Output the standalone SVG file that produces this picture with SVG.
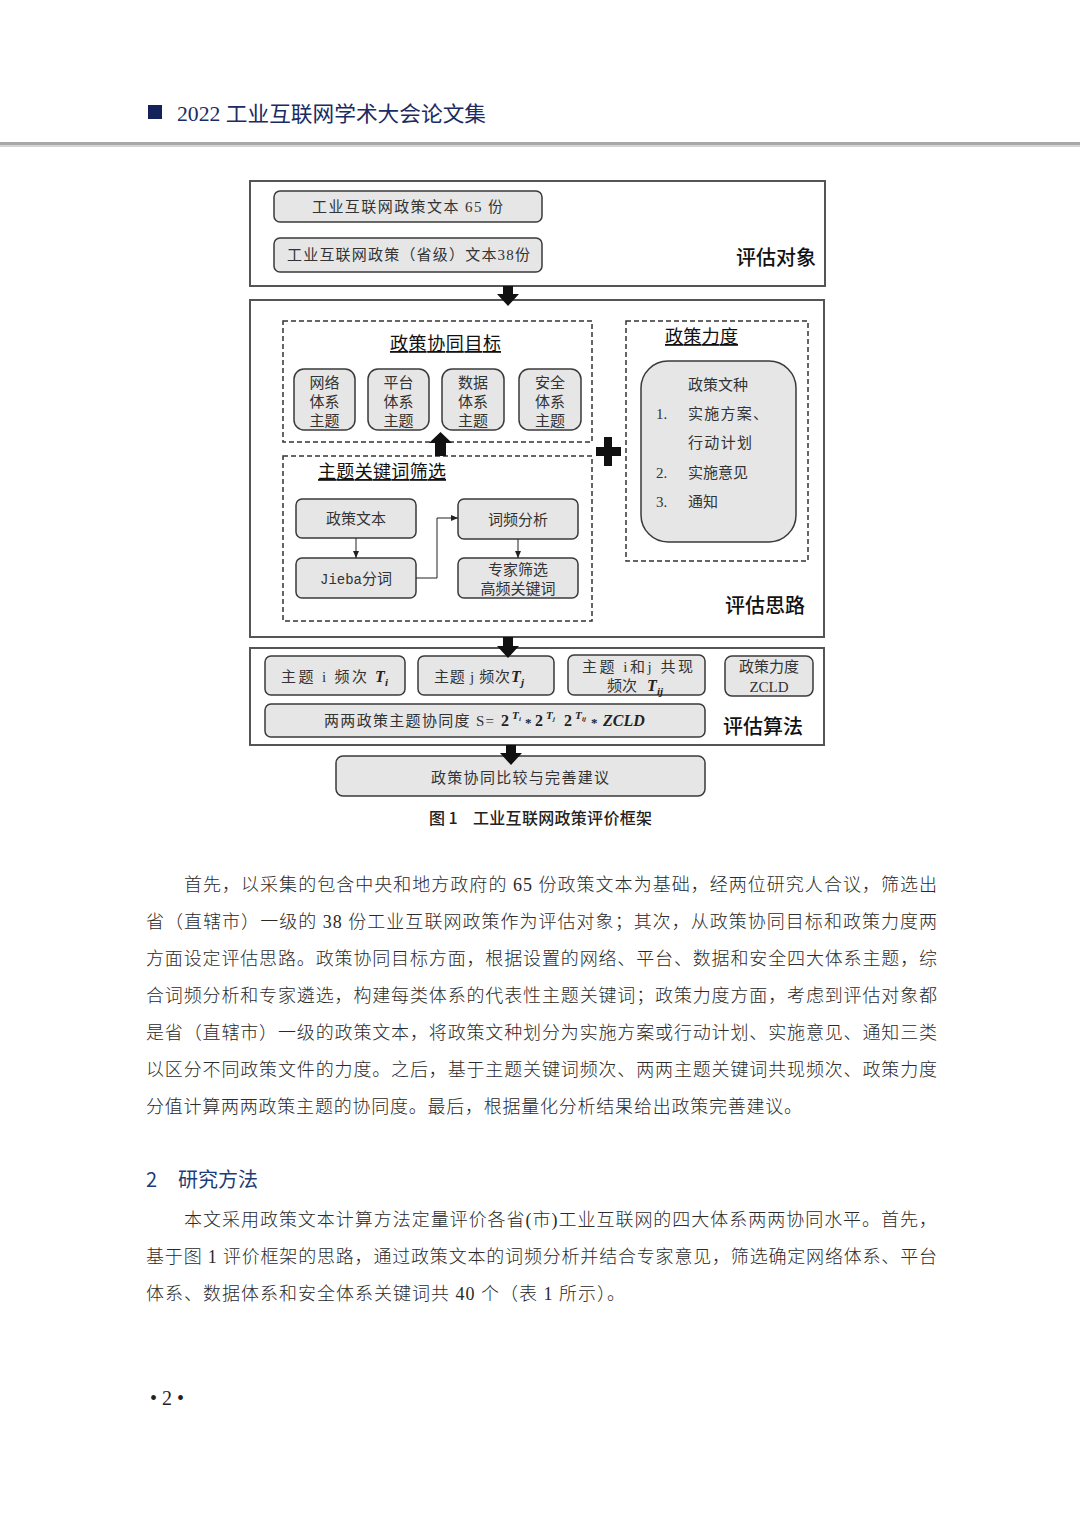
<svg xmlns="http://www.w3.org/2000/svg" width="1080" height="1527" viewBox="0 0 1080 1527">
<defs>
<style>
.frame{fill:#fff;stroke:#555;stroke-width:2}
.node{fill:#e6e6e6;stroke:#3a3a3a;stroke-width:1.5}
.dash{fill:none;stroke:#333;stroke-width:1.5;stroke-dasharray:5 3}
.t{font-family:"Liberation Serif","Noto Sans CJK SC",serif;font-size:15px;fill:#333}
.c{text-anchor:middle}
.lbl{font-family:"Noto Sans CJK SC",sans-serif;font-size:20px;fill:#111;font-weight:500}
.ttl{font-family:"Noto Sans CJK SC",sans-serif;font-size:18px;fill:#111;text-decoration:underline}
.body{font-family:"Liberation Serif","Noto Sans CJK SC",serif;font-size:18px;fill:#2a2a2a;font-weight:300}
.mono{font-family:"Liberation Mono",monospace}
.bi{font-family:"Liberation Serif",serif;font-weight:bold;font-style:italic;fill:#222}
.b{font-family:"Liberation Serif",serif;font-weight:bold;fill:#222}
.blk{fill:#111}
.thin{fill:none;stroke:#222;stroke-width:1}
.cap{font-family:"Noto Sans CJK SC",sans-serif;font-size:16px;font-weight:500;fill:#222}
</style>
<marker id="ah" markerWidth="8" markerHeight="8" refX="7" refY="4" orient="auto" markerUnits="userSpaceOnUse">
<path d="M0,1 L7,4 L0,7 Z" fill="#222"/>
</marker>
</defs>
<rect width="1080" height="1527" fill="#fff"/>

<!-- page header -->
<g id="header">
<rect x="148" y="105" width="14" height="14" fill="#14225a"/>
<text x="177" y="121" font-family="Liberation Serif,'Noto Sans CJK SC',serif" font-size="21" fill="#1b2b63" textLength="309" lengthAdjust="spacingAndGlyphs">2022 工业互联网学术大会论文集</text>
<rect x="0" y="142" width="1080" height="3" fill="#a8a8a8"/>
<rect x="0" y="145" width="1080" height="2" fill="#d4d4d4"/>
</g>

<!-- frames -->
<g id="frame-target">
<rect class="frame" x="250" y="181" width="575" height="105"/>
<text class="lbl" x="736" y="265">评估对象</text>
</g>
<g id="frame-idea">
<rect class="frame" x="250" y="300" width="574" height="337"/>
<text class="lbl" x="725" y="613">评估思路</text>
</g>
<g id="frame-algo">
<rect class="frame" x="250" y="648" width="574" height="97"/>
<text class="lbl" x="723" y="734">评估算法</text>
</g>

<!-- top nodes -->
<g id="n-text65">
<rect class="node" x="274" y="191" width="268" height="31" rx="6"/>
<text class="t" x="312" y="212" textLength="191" lengthAdjust="spacing">工业互联网政策文本 65 份</text>
</g>
<g id="n-text38">
<rect class="node" x="274" y="238" width="268" height="34" rx="6"/>
<text class="t" x="287" y="260" textLength="243" lengthAdjust="spacing">工业互联网政策（省级）文本38份</text>
</g>

<!-- dashed groups -->
<g id="g-goal">
<rect class="dash" x="283" y="321" width="309" height="121"/>
<text class="ttl" x="390" y="350" textLength="111" lengthAdjust="spacing">政策协同目标</text>
</g>
<g id="g-keyword">
<rect class="dash" x="283" y="456" width="309" height="165"/>
<text class="ttl" x="318" y="478" textLength="128" lengthAdjust="spacing">主题关键词筛选</text>
</g>
<g id="g-strength">
<rect class="dash" x="626" y="321" width="182" height="240"/>
<text class="ttl" x="665" y="343" textLength="73" lengthAdjust="spacing">政策力度</text>
</g>

<!-- theme nodes -->
<g id="n-net">
<rect class="node" x="294" y="369" width="61" height="61" rx="10"/>
<text class="t c" x="324.5" y="388" font-size="16">网络</text>
<text class="t c" x="324.5" y="407" font-size="16">体系</text>
<text class="t c" x="324.5" y="426" font-size="16">主题</text>
</g>
<g id="n-plat">
<rect class="node" x="368" y="369" width="61" height="61" rx="10"/>
<text class="t c" x="398.5" y="388" font-size="16">平台</text>
<text class="t c" x="398.5" y="407" font-size="16">体系</text>
<text class="t c" x="398.5" y="426" font-size="16">主题</text>
</g>
<g id="n-data">
<rect class="node" x="442" y="369" width="62" height="61" rx="10"/>
<text class="t c" x="473" y="388" font-size="16">数据</text>
<text class="t c" x="473" y="407" font-size="16">体系</text>
<text class="t c" x="473" y="426" font-size="16">主题</text>
</g>
<g id="n-sec">
<rect class="node" x="519" y="369" width="62" height="61" rx="10"/>
<text class="t c" x="550" y="388" font-size="16">安全</text>
<text class="t c" x="550" y="407" font-size="16">体系</text>
<text class="t c" x="550" y="426" font-size="16">主题</text>
</g>

<!-- keyword nodes -->
<g id="n-policytext">
<rect class="node" x="296" y="499" width="120" height="39" rx="6"/>
<text class="t c" x="356" y="524">政策文本</text>
</g>
<g id="n-jieba">
<rect class="node" x="296" y="558" width="120" height="40" rx="6"/>
<text class="t c" x="356" y="584"><tspan class="mono" font-size="14">Jieba</tspan>分词</text>
</g>
<g id="n-freq">
<rect class="node" x="458" y="499" width="120" height="40" rx="6"/>
<text class="t c" x="518" y="525">词频分析</text>
</g>
<g id="n-expert">
<rect class="node" x="458" y="558" width="120" height="40" rx="6"/>
<text class="t c" x="518" y="575">专家筛选</text>
<text class="t c" x="518" y="594">高频关键词</text>
</g>

<!-- strength node -->
<g id="n-doctype">
<rect class="node" x="641" y="361" width="155" height="181" rx="27"/>
<text class="t c" x="718" y="390">政策文种</text>
<text class="t" x="656" y="419">1.</text>
<text class="t" x="688" y="419" textLength="80" lengthAdjust="spacing">实 施 方 案 、</text>
<text class="t" x="688" y="448" textLength="64" lengthAdjust="spacing">行动计划</text>
<text class="t" x="656" y="478">2.</text>
<text class="t" x="688" y="478">实施意见</text>
<text class="t" x="656" y="507">3.</text>
<text class="t" x="688" y="507">通知</text>
</g>

<!-- algorithm nodes -->
<g id="n-ti">
<rect class="node" x="265" y="656" width="140" height="39" rx="6"/>
<text class="t" x="281" y="682" textLength="86" lengthAdjust="spacing">主题 i 频次</text>
<text class="bi" x="375" y="682" font-size="16">T</text>
<text class="bi" x="385" y="686" font-size="11">i</text>
</g>
<g id="n-tj">
<rect class="node" x="418" y="656" width="136" height="39" rx="6"/>
<text class="t" x="434" y="682" textLength="76" lengthAdjust="spacing">主题 j 频次</text>
<text class="bi" x="511" y="682" font-size="16">T</text>
<text class="bi" x="521" y="686" font-size="11">j</text>
</g>
<g id="n-tij">
<rect class="node" x="568" y="655" width="137" height="40" rx="6"/>
<text class="t" x="582" y="672" textLength="111" lengthAdjust="spacing">主题 i和j 共现</text>
<text class="t" x="607" y="691">频次</text>
<text class="bi" x="647" y="691" font-size="16">T</text>
<text class="bi" x="657" y="695" font-size="11">ij</text>
</g>
<g id="n-zcld">
<rect class="node" x="725" y="656" width="88" height="40" rx="7"/>
<text class="t c" x="769" y="672">政策力度</text>
<text class="t c" x="769" y="692" font-size="14">ZCLD</text>
</g>
<g id="n-formula">
<rect class="node" x="265" y="704" width="440" height="33" rx="6"/>
<text class="t" x="324" y="726" textLength="170" lengthAdjust="spacing">两两政策主题协同度 S=</text>
<text class="b" x="501" y="726" font-size="16">2</text>
<text class="bi" x="512" y="719" font-size="11">T</text>
<text class="bi" x="519" y="721" font-size="7">i</text>
<text class="b" x="525" y="727" font-size="13">*</text>
<text class="b" x="535" y="726" font-size="16">2</text>
<text class="bi" x="546" y="719" font-size="11">T</text>
<text class="bi" x="553" y="721" font-size="7">j</text>
<text class="b" x="564" y="726" font-size="16">2</text>
<text class="bi" x="575" y="719" font-size="11">T</text>
<text class="bi" x="582" y="721" font-size="7">ij</text>
<text class="b" x="591" y="727" font-size="13">*</text>
<text class="bi" x="603" y="726" font-size="16">ZCLD</text>
</g>

<!-- final node -->
<g id="n-final">
<rect class="node" x="336" y="756" width="369" height="40" rx="7"/>
<text class="t" x="431" y="783" font-size="16" textLength="178" lengthAdjust="spacing">政策协同比较与完善建议</text>
</g>

<!-- connectors -->
<g id="connectors">
<path class="blk" d="M503,286 H513 V294 H519 L508,306 L497,294 H503 Z"/>
<path class="blk" d="M503,637 H513 V646 H519 L508,658 L497,646 H503 Z"/>
<path class="blk" d="M506,745 H516 V753 H522 L511,765 L500,753 H506 Z"/>
<path class="blk" d="M435,456 H446 V443 H452 L440.5,432 L429,443 H435 Z"/>
<path class="blk" d="M604,437 H612 V447 H621 V456 H612 V466 H604 V456 H596 V447 H604 Z"/>
<line class="thin" x1="356" y1="538" x2="356" y2="558" marker-end="url(#ah)"/>
<polyline class="thin" points="416,578 437,578 437,518 458,518" marker-end="url(#ah)"/>
<line class="thin" x1="518" y1="539" x2="518" y2="558" marker-end="url(#ah)"/>
</g>

<!-- caption -->
<text class="cap" x="429" y="824">图 1</text>
<text class="cap" x="473" y="824" textLength="179" lengthAdjust="spacing">工业互联网政策评价框架</text>

<!-- body text -->
<g id="body">
<text class="body" x="184" y="891" textLength="753" lengthAdjust="spacing">首先，以采集的包含中央和地方政府的 65 份政策文本为基础，经两位研究人合议，筛选出</text>
<text class="body" x="146" y="928" textLength="791" lengthAdjust="spacing">省（直辖市）一级的 38 份工业互联网政策作为评估对象；其次，从政策协同目标和政策力度两</text>
<text class="body" x="146" y="965" textLength="791" lengthAdjust="spacing">方面设定评估思路。政策协同目标方面，根据设置的网络、平台、数据和安全四大体系主题，综</text>
<text class="body" x="146" y="1002" textLength="791" lengthAdjust="spacing">合词频分析和专家遴选，构建每类体系的代表性主题关键词；政策力度方面，考虑到评估对象都</text>
<text class="body" x="146" y="1039" textLength="791" lengthAdjust="spacing">是省（直辖市）一级的政策文本，将政策文种划分为实施方案或行动计划、实施意见、通知三类</text>
<text class="body" x="146" y="1076" textLength="791" lengthAdjust="spacing">以区分不同政策文件的力度。之后，基于主题关键词频次、两两主题关键词共现频次、政策力度</text>
<text class="body" x="146" y="1113" textLength="656" lengthAdjust="spacing">分值计算两两政策主题的协同度。最后，根据量化分析结果给出政策完善建议。</text>
<text x="146" y="1187" font-family="'Noto Sans CJK SC',sans-serif" font-size="20" fill="#1e3c78">2</text>
<text x="178" y="1187" font-family="'Noto Sans CJK SC',sans-serif" font-size="20" fill="#1e3c78">研究方法</text>
<text class="body" x="184" y="1226" textLength="753" lengthAdjust="spacing">本文采用政策文本计算方法定量评价各省(市)工业互联网的四大体系两两协同水平。首先，</text>
<text class="body" x="146" y="1263" textLength="791" lengthAdjust="spacing">基于图 1 评价框架的思路，通过政策文本的词频分析并结合专家意见，筛选确定网络体系、平台</text>
<text class="body" x="146" y="1300" textLength="479" lengthAdjust="spacing">体系、数据体系和安全体系关键词共 40 个（表 1 所示）。</text>
<text x="150" y="1405" font-family="'Liberation Serif',serif" font-size="20" fill="#222">• 2 •</text>
</g>
</svg>
